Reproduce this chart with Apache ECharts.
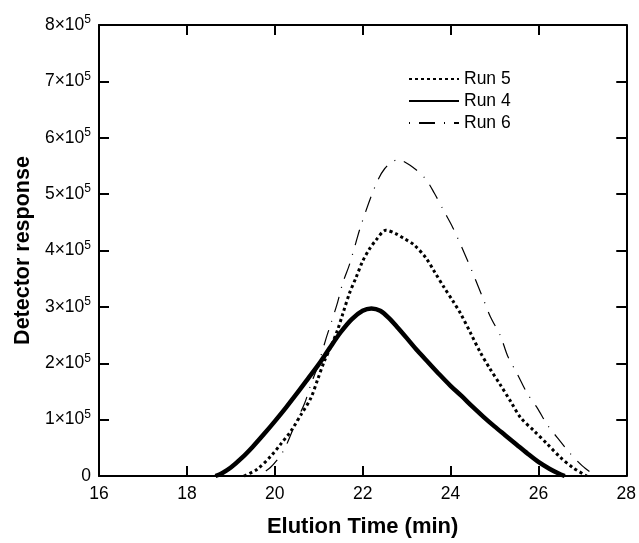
<!DOCTYPE html>
<html>
<head>
<meta charset="utf-8">
<script src="https://cdn.jsdelivr.net/npm/echarts@6/dist/echarts.min.js"></script>
<style>
  html, body { margin: 0; padding: 0; background: #fff; }
  #chart { width: 639px; height: 543px; }
</style>
</head>
<body>
<div id="chart"></div>
<script>
// 数据 (time in min, response in counts)
var xTicks = [16, 18, 20, 22, 24, 26, 28];
var yTickExp = [0, 1, 2, 3, 4, 5, 6, 7, 8];

var run5Time = [19.3, 19.6, 19.92, 20.14, 20.37, 20.6, 20.82, 20.98, 21.13, 21.28, 21.43, 21.55, 21.7, 21.85, 22.0, 22.15, 22.3, 22.53, 22.75, 22.95, 23.17, 23.44, 23.63, 23.85, 24.05, 24.23, 24.46, 24.68, 24.9, 25.14, 25.37, 25.6, 25.9, 26.2, 26.5, 26.8, 27.1];
var run5Resp = [0, 12000, 36000, 57000, 80000, 109000, 138000, 172000, 204000, 230000, 259000, 288000, 324000, 352000, 381000, 402000, 418000, 436000, 430000, 421000, 410000, 387000, 363000, 335000, 311000, 288000, 253000, 219000, 190000, 161000, 132000, 103000, 80000, 57000, 33000, 14000, 0];

var run4Time = [18.65, 18.8, 19.0, 19.25, 19.5, 19.75, 20.0, 20.25, 20.5, 20.75, 21.0, 21.25, 21.5, 21.75, 22.0, 22.2, 22.4, 22.6, 22.8, 23.0, 23.25, 23.5, 23.75, 24.0, 24.25, 24.5, 24.75, 25.0, 25.25, 25.5, 25.75, 26.0, 26.25, 26.45, 26.6];
var run4Resp = [0, 5000, 15000, 32000, 52000, 74000, 97000, 121000, 146000, 172000, 198000, 227000, 255000, 278000, 293000, 297000, 293000, 280000, 263000, 245000, 222000, 201000, 180000, 160000, 142000, 123000, 105000, 88000, 72000, 56000, 40000, 25000, 13000, 5000, 0];

var run6Time = [19.6, 19.9, 20.2, 20.49, 20.68, 20.82, 20.98, 21.16, 21.28, 21.43, 21.55, 21.7, 21.85, 21.96, 22.27, 22.5, 22.8, 23.17, 23.44, 23.63, 23.85, 24.05, 24.4, 24.73, 24.91, 25.14, 25.3, 25.52, 25.75, 25.98, 26.2, 26.43, 26.7, 27.0, 27.3];
var run6Resp = [0, 15000, 45000, 97000, 129000, 162000, 195000, 242000, 271000, 308000, 343000, 375000, 415000, 444000, 511000, 545000, 561000, 546000, 526000, 502000, 470000, 441000, 380000, 317000, 282000, 248000, 213000, 181000, 146000, 120000, 91000, 68000, 42000, 18000, 0];

function pairs(xs, ys) {
    var out = [];
    for (var i = 0; i < xs.length; i++) {
        out.push([xs[i], ys[i]]);
    }
    return out;
}

var chart = echarts.init(document.getElementById('chart'));

var font = 'Liberation Sans, Arial, Helvetica, sans-serif';
var axisLineStyle = { color: '#000', width: 2 };

var option = {
    backgroundColor: '#fff',
    animation: false,
    grid: { left: 99, right: 10, top: 25, bottom: 57 },
    legend: {
        orient: 'vertical',
        left: 403,
        top: 65,
        itemWidth: 50,
        itemHeight: 14,
        itemGap: 4,
        // 只显示线型, 隐藏图例圆点
        itemStyle: { opacity: 0 },
        data: ['Run 5', 'Run 4', 'Run 6'],
        textStyle: { fontFamily: font, fontSize: 17.5, color: '#000' }
    },
    xAxis: [{
        type: 'value',
        min: 16, max: 28, interval: 2,
        name: 'Elution Time (min)',
        nameLocation: 'middle',
        nameGap: 40,
        nameTextStyle: { fontFamily: font, fontSize: 22, fontWeight: 'bold', color: '#000' },
        axisLine: { onZero: false, lineStyle: axisLineStyle },
        axisTick: { inside: true, length: 10, lineStyle: axisLineStyle },
        axisLabel: { fontFamily: font, fontSize: 17.5, color: '#000', margin: 9 },
        splitLine: { show: false }
    }, {
        type: 'value',
        position: 'top',
        min: 16, max: 28, interval: 2,
        axisLine: { onZero: false, lineStyle: axisLineStyle },
        axisTick: { inside: true, length: 10, lineStyle: axisLineStyle },
        axisLabel: { show: false },
        splitLine: { show: false }
    }],
    yAxis: [{
        type: 'value',
        min: 0, max: 800000, interval: 100000,
        name: 'Detector response',
        nameLocation: 'middle',
        nameGap: 64,
        nameTextStyle: { fontFamily: font, fontSize: 21.5, fontWeight: 'bold', color: '#000' },
        axisLine: { onZero: false, lineStyle: axisLineStyle },
        axisTick: { inside: true, length: 10, lineStyle: axisLineStyle },
        axisLabel: {
            fontFamily: font, fontSize: 17.5, color: '#000', margin: 8,
            formatter: function (v) {
                var n = Math.round(v / 100000);
                if (n === 0) return '{b|0}';
                return '{b|' + n + '×10}{s|5}';
            },
            rich: {
                b: { fontFamily: font, fontSize: 17.5, color: '#000' },
                s: { fontFamily: font, fontSize: 12, color: '#000', verticalAlign: 'bottom', padding: [0, 0, 10, 0] }
            }
        },
        splitLine: { show: false }
    }, {
        type: 'value',
        position: 'right',
        min: 0, max: 800000, interval: 100000,
        axisLine: { onZero: false, lineStyle: axisLineStyle },
        axisTick: { inside: true, length: 10, lineStyle: axisLineStyle },
        axisLabel: { show: false },
        splitLine: { show: false }
    }],
    series: [{
        name: 'Run 5',
        type: 'line',
        symbol: 'none',
        smooth: 0.3,
        data: pairs(run5Time, run5Resp),
        itemStyle: { color: '#000' },
        lineStyle: { color: '#000', width: 3, type: [3, 3] }
    }, {
        name: 'Run 4',
        type: 'line',
        symbol: 'none',
        smooth: 0.3,
        data: pairs(run4Time, run4Resp),
        itemStyle: { color: '#000' },
        lineStyle: { color: '#000', width: 4.5 }
    }, {
        name: 'Run 6',
        type: 'line',
        symbol: 'none',
        smooth: 0.3,
        data: pairs(run6Time, run6Resp),
        itemStyle: { color: '#000' },
        lineStyle: { color: '#000', width: 1.2, type: [1, 9, 16, 9] }
    }]
};

chart.setOption(option);

window.onresize = function () {
    chart.resize();
};
</script>
</body>
</html>
